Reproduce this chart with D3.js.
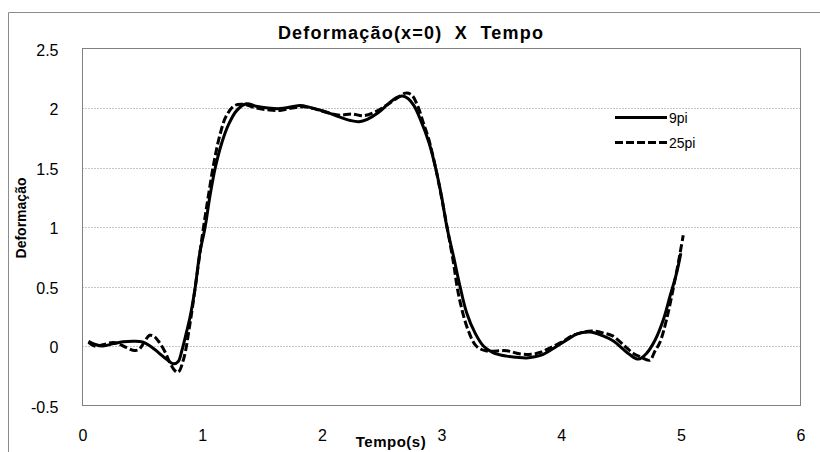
<!DOCTYPE html>
<html>
<head>
<meta charset="utf-8">
<script src="https://cdn.jsdelivr.net/npm/d3@7"></script>
<style>
  html, body { margin: 0; padding: 0; background: #fff; }
  svg { display: block; }
  text { font-family: "Liberation Sans Narrow", "Liberation Sans", Arial, sans-serif; fill: #000; }
</style>
</head>
<body>
<svg id="chart" width="820" height="452"></svg>
<script>
// Deformation at x=0 over time, for two truncation levels of the series solution
const time9 = [0.05, 0.10, 0.17, 0.26, 0.34, 0.42, 0.50, 0.565, 0.635, 0.70, 0.76, 0.80, 0.83, 0.87, 0.90, 0.94, 0.98,
  1.025, 1.065, 1.11, 1.165, 1.22, 1.29, 1.37, 1.45, 1.55, 1.65, 1.75, 1.82, 1.90, 2.01, 2.12, 2.24, 2.31, 2.38, 2.47,
  2.55, 2.62, 2.67, 2.72, 2.77, 2.825, 2.895, 2.95, 3.0, 3.045, 3.10, 3.155, 3.21, 3.28, 3.35, 3.43, 3.545, 3.63, 3.71,
  3.78, 3.85, 3.92, 3.99, 4.06, 4.13, 4.24, 4.35, 4.44, 4.51, 4.57, 4.645, 4.715, 4.785, 4.855, 4.91, 4.965, 5.0];
const def9 = [0.04, 0.015, 0.0, 0.02, 0.035, 0.04, 0.035, 0.0, -0.055, -0.11, -0.15, -0.13, -0.04, 0.12, 0.25, 0.48, 0.78,
  1.0, 1.26, 1.5, 1.71, 1.86, 1.98, 2.035, 2.015, 2.0, 1.995, 2.01, 2.02, 2.005, 1.975, 1.935, 1.895, 1.885, 1.905, 1.96,
  2.03, 2.085, 2.10, 2.08, 2.02, 1.9, 1.71, 1.5, 1.26, 1.0, 0.755, 0.50, 0.28, 0.11, 0.0, -0.055, -0.085, -0.095, -0.1,
  -0.09, -0.07, -0.03, 0.015, 0.06, 0.1, 0.117, 0.085, 0.04, -0.02, -0.07, -0.11, -0.06, 0.05, 0.225, 0.42, 0.615, 0.78];

const time25 = [0.05, 0.10, 0.17, 0.26, 0.34, 0.42, 0.47, 0.52, 0.56, 0.60, 0.635, 0.69, 0.73, 0.775, 0.80, 0.845, 0.90,
  0.95, 1.0, 1.05, 1.10, 1.15, 1.20, 1.27, 1.35, 1.45, 1.55, 1.65, 1.75, 1.85, 1.95, 2.05, 2.15, 2.25, 2.35, 2.45, 2.55,
  2.64, 2.70, 2.75, 2.80, 2.85, 2.89, 2.95, 3.0, 3.05, 3.10, 3.13, 3.165, 3.22, 3.29, 3.37, 3.545, 3.65, 3.75, 3.82, 3.90,
  4.0, 4.10, 4.20, 4.27, 4.35, 4.43, 4.53, 4.60, 4.66, 4.74, 4.78, 4.825, 4.88, 4.94, 4.99, 5.02];
const def25 = [0.03, 0.0, 0.01, 0.03, 0.0, -0.035, -0.03, 0.04, 0.09, 0.08, 0.04, -0.05, -0.14, -0.21, -0.22, -0.11, 0.2,
  0.55, 0.92, 1.25, 1.55, 1.78, 1.93, 2.02, 2.03, 2.0, 1.985, 1.98, 2.0, 2.01, 1.99, 1.96, 1.94, 1.95, 1.935, 1.97, 2.03,
  2.09, 2.125, 2.11, 2.02, 1.87, 1.75, 1.5, 1.25, 0.98, 0.70, 0.50, 0.33, 0.14, 0.0, -0.04, -0.04, -0.065, -0.07, -0.055,
  -0.02, 0.03, 0.09, 0.12, 0.125, 0.11, 0.085, 0.0, -0.06, -0.09, -0.12, -0.05, 0.03, 0.22, 0.5, 0.76, 0.93];

const xTicks = [0, 1, 2, 3, 4, 5, 6];
const yTicks = [-0.5, 0, 0.5, 1, 1.5, 2, 2.5];
const seriesNames = ["9pi", "25pi"];

const svg = d3.select("#chart");
const W = 820, H = 452;

const x = d3.scaleLinear().domain([0, 6]).range([82.5, 800.5]);
const y = d3.scaleLinear().domain([-0.5, 2.5]).range([405.5, 48.5]);

// outer chart frame (top and left edges visible)
svg.append("path")
  .attr("d", `M8.5,${H} L8.5,12.5 L${W},12.5`)
  .attr("fill", "none").attr("stroke", "#8c8c8c").attr("stroke-width", 1);

// horizontal dotted gridlines
svg.append("g")
  .selectAll("line")
  .data(yTicks.filter(v => v > -0.5 && v < 2.5))
  .join("line")
  .attr("x1", x(0)).attr("x2", x(6))
  .attr("y1", d => Math.round(y(d)) + 0.5).attr("y2", d => Math.round(y(d)) + 0.5)
  .attr("stroke", "#8a8a8a").attr("stroke-width", 1).attr("stroke-dasharray", "1,2");

// plot area border
svg.append("rect")
  .attr("x", x(0)).attr("y", y(2.5))
  .attr("width", x(6) - x(0)).attr("height", y(-0.5) - y(2.5))
  .attr("fill", "none").attr("stroke", "#808080").attr("stroke-width", 1);

// y axis labels
const yAxis = d3.axisLeft(y).tickValues(yTicks).tickSize(0).tickPadding(24)
  .tickFormat(d => String(d));
const gy = svg.append("g").attr("transform", `translate(${x(0)},0)`).call(yAxis);
gy.select(".domain").remove();
gy.selectAll("text").style("font-size", "16px").attr("dy", "0.42em")
  .style("font-family", '"Liberation Sans Narrow", "Liberation Sans", Arial, sans-serif');

// x axis labels
const xAxis = d3.axisBottom(x).tickValues(xTicks).tickSize(0).tickPadding(24)
  .tickFormat(d3.format("d"));
const gx = svg.append("g").attr("transform", `translate(0,${y(-0.5)})`).call(xAxis);
gx.select(".domain").remove();
gx.selectAll("text").style("font-size", "16px")
  .style("font-family", '"Liberation Sans Narrow", "Liberation Sans", Arial, sans-serif');

// series lines
const line = d3.line().curve(d3.curveCatmullRom.alpha(0.5))
  .x(d => x(d[0])).y(d => y(d[1]));

const s9 = time9.map((t, i) => [t, def9[i]]);
const s25 = time25.map((t, i) => [t, def25[i]]);

svg.append("path").datum(s25).attr("d", line)
  .attr("fill", "none").attr("stroke", "#000").attr("stroke-width", 3)
  .attr("stroke-dasharray", "8,3");
svg.append("path").datum(s9).attr("d", line)
  .attr("fill", "none").attr("stroke", "#000").attr("stroke-width", 3)
  .attr("stroke-linejoin", "round");

// title
svg.append("text")
  .attr("x", 411).attr("y", 39)
  .attr("text-anchor", "middle")
  .style("white-space", "pre")
  .style("font-family", '"Liberation Sans", Arial, sans-serif')
  .style("font-weight", "bold").style("font-size", "18px")
  .style("letter-spacing", "1.2px")
  .text("Deformação(x=0)  X  Tempo");

// axis titles
svg.append("text")
  .attr("x", 391).attr("y", 447)
  .attr("text-anchor", "middle")
  .style("font-family", '"Liberation Sans", Arial, sans-serif')
  .style("font-weight", "bold").style("font-size", "15px")
  .style("letter-spacing", "0.5px")
  .text("Tempo(s)");

svg.append("text")
  .attr("transform", "translate(26,218) rotate(-90)")
  .attr("text-anchor", "middle")
  .style("font-family", '"Liberation Sans", Arial, sans-serif')
  .style("font-weight", "bold").style("font-size", "14px")
  .text("Deformação");

// legend
const legend = svg.append("g");
seriesNames.forEach((name, i) => {
  const ly = 117.5 + i * 25;
  legend.append("line")
    .attr("x1", 615).attr("x2", 667).attr("y1", ly).attr("y2", ly)
    .attr("stroke", "#000").attr("stroke-width", 3)
    .attr("stroke-dasharray", i === 1 ? "8,3" : null);
  legend.append("text")
    .attr("x", 669).attr("y", ly).attr("dy", "0.36em")
    .style("font-size", "14px")
    .text(name);
});
</script>
</body>
</html>
